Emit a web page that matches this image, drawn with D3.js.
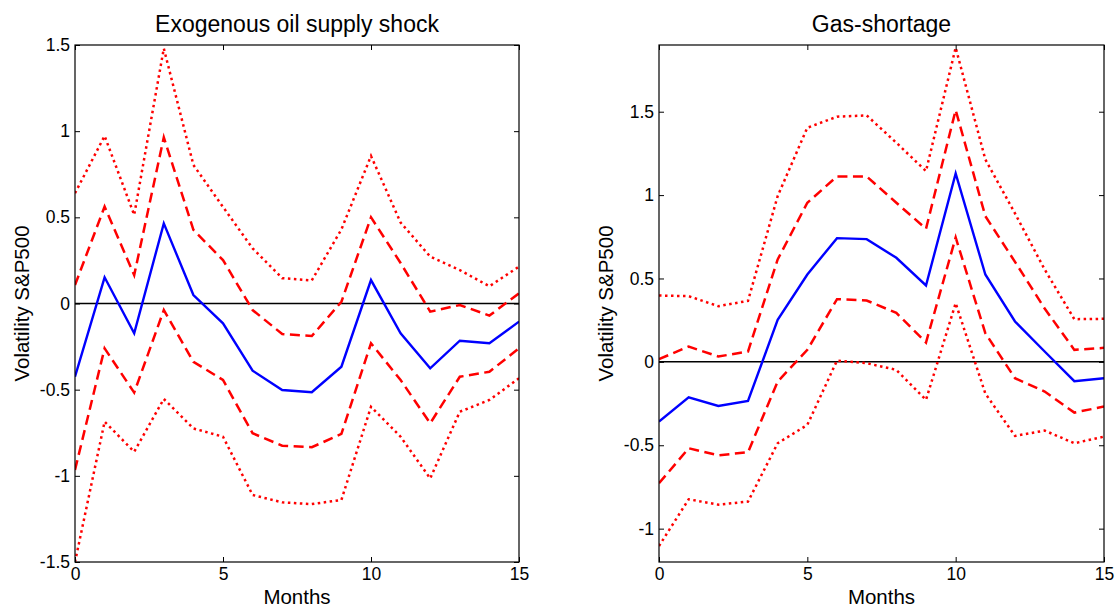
<!DOCTYPE html>
<html><head><meta charset="utf-8">
<script src="https://cdn.jsdelivr.net/npm/d3@7"></script>
<style>body{margin:0;background:#fff;} text{font-family:"Liberation Sans",Arial,sans-serif;fill:#000;}</style>
</head><body>
<svg id="c" width="1115" height="608"></svg>
<script>
const months = d3.range(0,16);
const xTicks = [0,5,10,15];
// Panel 1: Exogenous oil supply shock
const oilMedian  = [-0.425,0.152,-0.173,0.465,0.049,-0.115,-0.39,-0.502,-0.515,-0.367,0.136,-0.173,-0.376,-0.216,-0.231,-0.105];
const oilUp68    = [0.107,0.562,0.165,0.964,0.427,0.252,-0.038,-0.177,-0.189,0.01,0.50,0.235,-0.047,-0.009,-0.07,0.059];
const oilLo68    = [-0.966,-0.26,-0.517,-0.038,-0.338,-0.444,-0.753,-0.825,-0.834,-0.757,-0.231,-0.444,-0.695,-0.425,-0.396,-0.26];
const oilUp90    = [0.64,0.972,0.514,1.48,0.804,0.56,0.32,0.147,0.134,0.43,0.856,0.47,0.272,0.194,0.10,0.214];
const oilLo90    = [-1.5,-0.686,-0.86,-0.554,-0.725,-0.773,-1.111,-1.154,-1.164,-1.14,-0.599,-0.773,-1.015,-0.628,-0.56,-0.434];
const oilYTicks  = [-1.5,-1,-0.5,0,0.5,1,1.5];
const oilYDomain = [-1.5,1.5];
// Panel 2: Gas-shortage
const gasMedian  = [-0.358,-0.212,-0.264,-0.234,0.252,0.524,0.742,0.736,0.624,0.458,1.13,0.524,0.242,0.062,-0.116,-0.098];
const gasUp68    = [0.016,0.092,0.032,0.062,0.614,0.954,1.112,1.112,0.954,0.798,1.51,0.874,0.6,0.32,0.072,0.084];
const gasLo68    = [-0.728,-0.518,-0.56,-0.542,-0.118,0.072,0.376,0.368,0.294,0.116,0.746,0.172,-0.098,-0.178,-0.304,-0.268];
const gasUp90    = [0.398,0.394,0.334,0.366,0.994,1.404,1.47,1.478,1.314,1.144,1.884,1.214,0.89,0.554,0.256,0.258];
const gasLo90    = [-1.104,-0.824,-0.856,-0.838,-0.488,-0.378,0.008,-0.008,-0.048,-0.228,0.352,-0.19,-0.444,-0.412,-0.488,-0.448];
const gasYTicks  = [-1,-0.5,0,0.5,1,1.5];
const gasYDomain = [-1.2,1.9];

const titles = ["Exogenous oil supply shock","Gas-shortage"];
const yLabel = "Volatility S&P500";
const xLabel = "Months";

const svg = d3.select("#c");
const panels = [
  {x0:75, x1:519, title:titles[0], dom:oilYDomain, ticks:oilYTicks, series:[oilUp90,oilUp68,oilMedian,oilLo68,oilLo90]},
  {x0:659, x1:1104, title:titles[1], dom:gasYDomain, ticks:gasYTicks, series:[gasUp90,gasUp68,gasMedian,gasLo68,gasLo90]}
];
const plotTop=45, plotBot=562;
const styles = [
  {c:"#ff0000", w:2.5, d:"2.5,3.5"},
  {c:"#ff0000", w:2.5, d:"10,5.5"},
  {c:"#0000ff", w:2.4, d:null},
  {c:"#ff0000", w:2.5, d:"10,5.5"},
  {c:"#ff0000", w:2.5, d:"2.5,3.5"}
];
const fmt = v => (v===0?"0":String(v));
panels.forEach(p=>{
  const x = d3.scaleLinear().domain([0,15]).range([p.x0,p.x1]);
  const y = d3.scaleLinear().domain(p.dom).range([plotBot,plotTop]);
  const g = svg.append("g");
  const clipId = "clip"+p.x0;
  g.append("clipPath").attr("id",clipId).append("rect").attr("x",p.x0).attr("y",plotTop-2).attr("width",p.x1-p.x0).attr("height",plotBot-plotTop+4);
  g.append("line").attr("x1",p.x0).attr("x2",p.x1).attr("y1",y(0)).attr("y2",y(0)).attr("stroke","#000").attr("stroke-width",1.5);
  const line = d3.line().x((d,i)=>x(months[i])).y(d=>y(d));
  p.series.forEach((s,k)=>{
    const st=styles[k];
    g.append("path").attr("d",line(s)).attr("fill","none").attr("stroke",st.c).attr("stroke-width",st.w)
      .attr("stroke-dasharray",st.d).attr("stroke-linejoin","miter").attr("clip-path","url(#"+clipId+")");
  });
  const axB = g.append("g").attr("transform",`translate(0,${plotBot})`).call(d3.axisBottom(x).tickValues(xTicks).tickSizeInner(-5).tickSizeOuter(0).tickPadding(6).tickFormat(fmt));
  const axT = g.append("g").attr("transform",`translate(0,${plotTop})`).call(d3.axisTop(x).tickValues(xTicks).tickSizeInner(-5).tickSizeOuter(0).tickFormat(""));
  const axL = g.append("g").attr("transform",`translate(${p.x0},0)`).call(d3.axisLeft(y).tickValues(p.ticks).tickSizeInner(-5).tickSizeOuter(0).tickPadding(5).tickFormat(fmt));
  const axR = g.append("g").attr("transform",`translate(${p.x1},0)`).call(d3.axisRight(y).tickValues(p.ticks).tickSizeInner(-5).tickSizeOuter(0).tickFormat(""));
  [axB,axT,axL,axR].forEach(a=>{
    a.select(".domain").remove();
    a.selectAll("line").attr("stroke","#000").attr("stroke-width",1);
    a.selectAll("text").attr("font-size",17.5).attr("font-family","Liberation Sans, Arial, sans-serif").attr("fill","#000");
  });
  g.append("rect").attr("x",p.x0).attr("y",plotTop).attr("width",p.x1-p.x0).attr("height",plotBot-plotTop)
    .attr("fill","none").attr("stroke","#000").attr("stroke-width",1.2);
  g.append("text").attr("x",(p.x0+p.x1)/2).attr("y",32).attr("text-anchor","middle").attr("font-size",23).text(p.title);
  g.append("text").attr("x",(p.x0+p.x1)/2).attr("y",604).attr("text-anchor","middle").attr("font-size",20.5).text(xLabel);
  g.append("text").attr("transform",`translate(${p.x0-46},${(plotTop+plotBot)/2}) rotate(-90)`).attr("text-anchor","middle").attr("font-size",20.5).text(yLabel);
});
</script>
</body></html>
